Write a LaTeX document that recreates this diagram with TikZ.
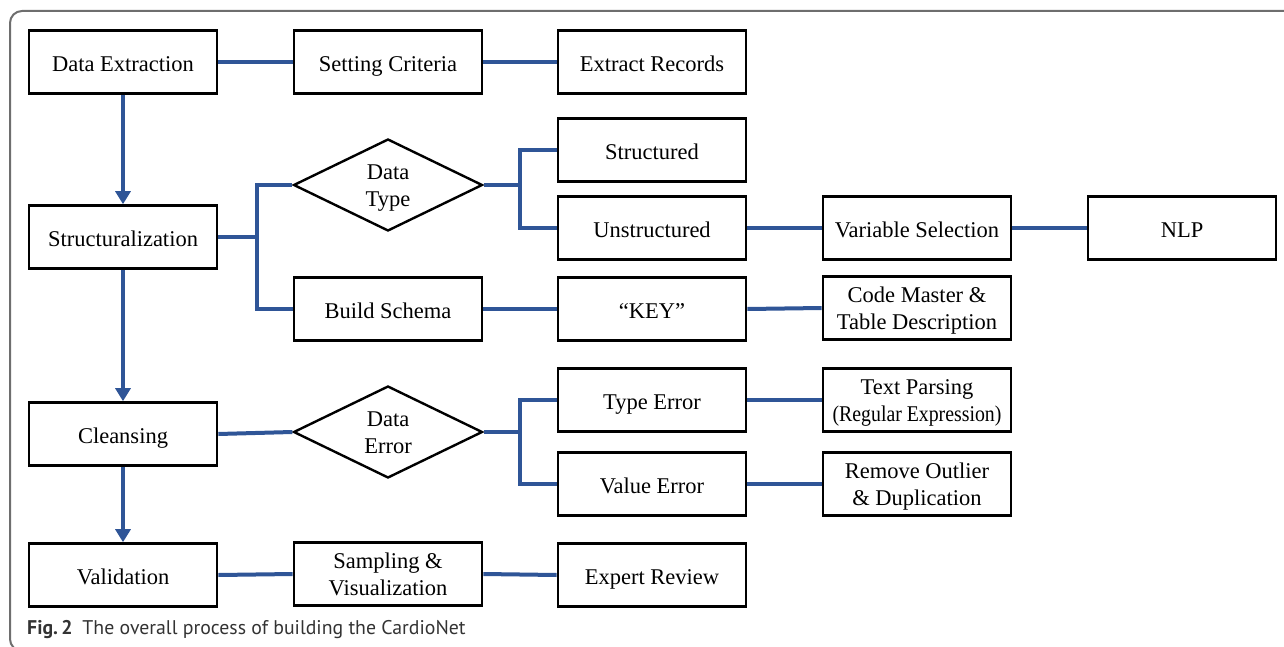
\documentclass[tikz,border=0pt]{standalone}
\usepackage{fontspec}
\setmainfont{Liberation Serif}
\newfontfamily\capfont{PT Sans}
\usetikzlibrary{shapes.geometric,arrows.meta}
\definecolor{linkblue}{HTML}{2F5597}
\definecolor{framegray}{HTML}{6E6E6E}
\tikzset{
  boxbase/.style={draw=black, line width=2.6pt, minimum width=188pt, minimum height=63pt,
    inner sep=2pt, align=center, font=\fontsize{22.5}{26.5}\selectfont},
  box/.style={boxbase, text height=19pt, text depth=0pt},
  tallbox/.style={boxbase, text height=42pt, text depth=-3pt},
  choice/.style={draw=black, line width=2.4pt, shape=diamond, minimum width=189pt,
    minimum height=92pt, inner sep=0pt, align=center, text height=42pt, text depth=-2pt,
    font=\fontsize{22.5}{26.5}\selectfont},
  link/.style={draw=linkblue, line width=4pt},
  flow/.style={link, -{Triangle[width=15pt,length=13pt]}},
}
\begin{document}
\begin{tikzpicture}[x=1pt, y=-1pt]
\useasboundingbox (0,0) rectangle (1284,647);
% outer frame, open on the right and bottom
\draw[framegray, line width=2pt, rounded corners=12pt]
  (1300,11) -- (10,11) -- (10,651) -- (40,651);

% main column
\node[box] (ext)  at (123,62)  {Data Extraction};
\node[box] (stru) at (123,237) {Structuralization};
\node[box] (cln)  at (123,434) {Cleansing};
\node[box] (val)  at (123,575) {Validation};

% extraction row
\node[box] (crit) at (388,62) {Setting Criteria};
\node[box] (recs) at (652,62) {Extract Records};

% structuralization branch
\node[choice] (dtype) at (388,185) {Data\\Type};
\node[box] (sd)   at (652,150) {Structured};
\node[box] (usd)  at (652,228) {Unstructured};
\node[box] (vsel) at (917,228) {Variable Selection};
\node[box] (nlp)  at (1182,228) {NLP};
\node[box] (schema) at (388,309) {Build Schema};
\node[box] (key)  at (652,309) {``KEY''};
\node[tallbox] (cmd)  at (917,308) {Code Master \&\\Table Description};

% cleansing branch
\node[choice] (derr) at (388,432) {Data\\Error};
\node[box] (terr) at (652,400) {Type Error};
\node[box] (verr) at (652,484) {Value Error};
\node[tallbox] (tpar) at (917,400) {Text Parsing\\\scalebox{0.88}[1]{(Regular Expression)}};
\node[tallbox] (rout) at (917,484) {Remove Outlier\\\& Duplication};

% validation row
\node[tallbox] (samp) at (388,574) {Sampling \&\\Visualization};
\node[box] (rev)  at (652,575) {Expert Review};

% junction points of the branching connectors
\coordinate (j1) at (257,237);
\coordinate (j2) at (520,185);
\coordinate (j3) at (520,432);

% vertical flow
\draw[flow] (ext.south) -- (stru.north);
\draw[flow] (stru.south) -- (cln.north);
\draw[flow] (cln.south) -- (val.north);

% horizontal links
\draw[link] (ext.east) -- (crit.west);
\draw[link] (crit.east) -- (recs.west);

\draw[link] (stru.east) -- (j1);
\draw[link] (j1) |- (dtype.west);
\draw[link] (j1) |- (schema.west);
\draw[link] (dtype.east) -- (j2);
\draw[link] (j2) |- (sd.west);
\draw[link] (j2) |- (usd.west);
\draw[link] (usd.east) -- (vsel.west);
\draw[link] (vsel.east) -- (nlp.west);
\draw[link] (schema.east) -- (key.west);
\draw[link] (key.east) -- (cmd.west);

\draw[link] (cln.east) -- (derr.west);
\draw[link] (derr.east) -- (j3);
\draw[link] (j3) |- (terr.west);
\draw[link] (j3) |- (verr.west);
\draw[link] (terr.east) -- (tpar.west);
\draw[link] (verr.east) -- (rout.west);

\draw[link] (val.east) -- (samp.west);
\draw[link] (samp.east) -- (rev.west);

% caption
\node[anchor=base west, inner sep=0pt, text=black!80, font=\capfont\fontsize{19.8}{22}\selectfont]
  (cap) at (27,634) {\textbf{Fig.\,2}\hspace{0.5em}The overall process of building the CardioNet};
\end{tikzpicture}
\end{document}
